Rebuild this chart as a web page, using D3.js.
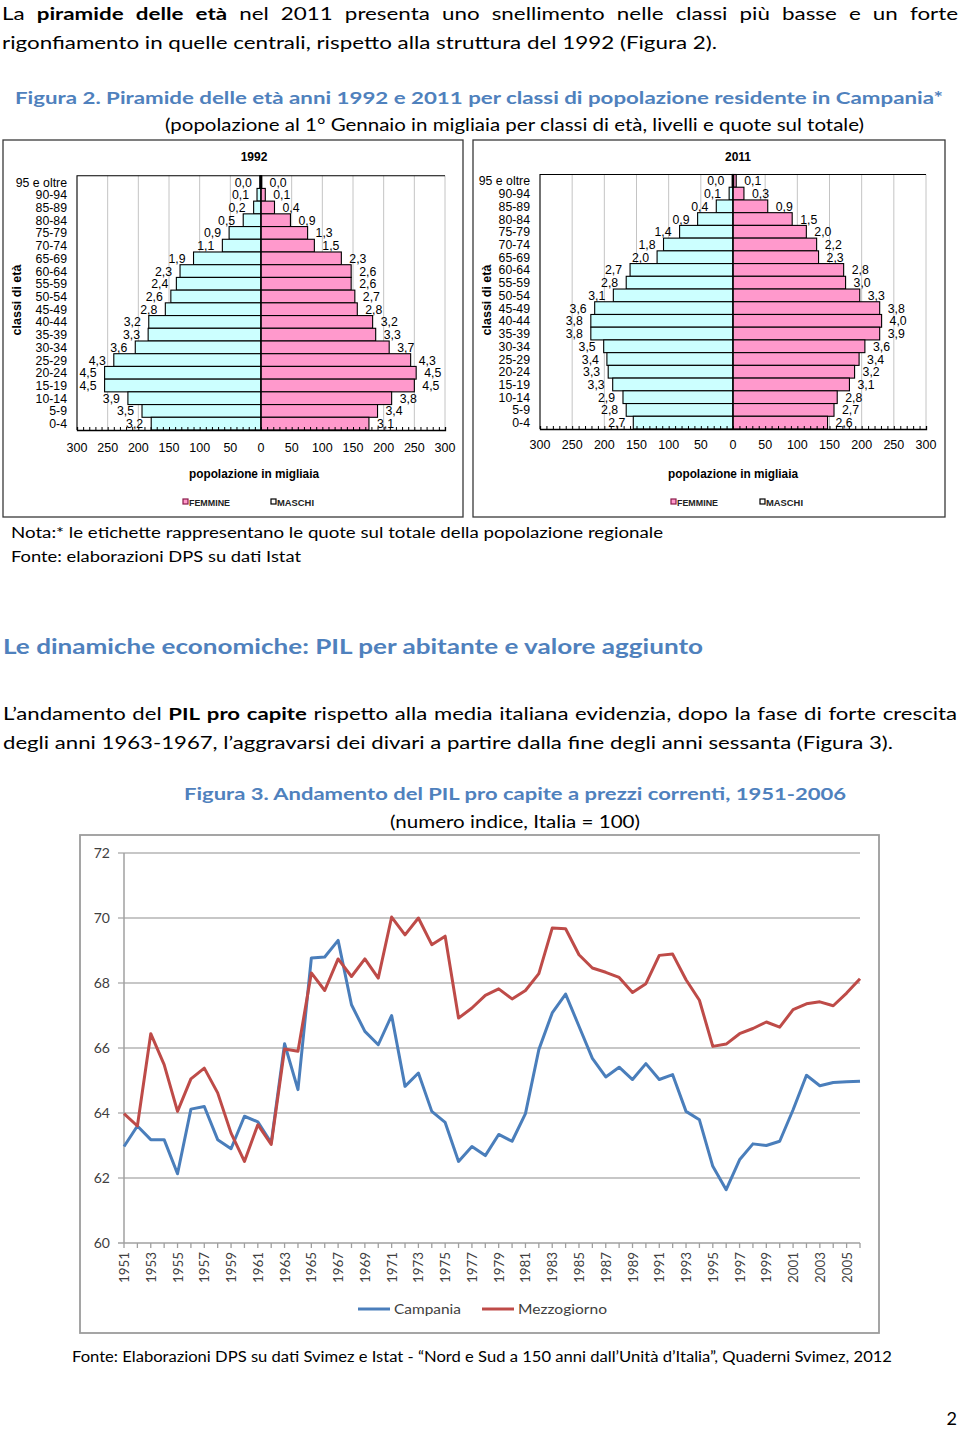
<!DOCTYPE html>
<html><head><meta charset="utf-8">
<script src="https://cdn.jsdelivr.net/npm/d3@7"></script>
<style>body{margin:0;background:#fff}svg{display:block}</style>
</head><body>
<script>
// ---------------- DATA ----------------
const ageGroups = ["95 e oltre","90-94","85-89","80-84","75-79","70-74","65-69","60-64","55-59","50-54","45-49","40-44","35-39","30-34","25-29","20-24","15-19","10-14","5-9","0-4"];

// 1992 (migliaia)
const left1992  = [2, 6.5, 12, 29, 52, 63, 110, 132, 138, 147, 156, 183, 184, 205, 240, 255, 255, 217, 194, 179];
const right1992 = [1, 7, 22, 48, 76, 87, 131, 147, 147, 153, 157, 182, 187, 209, 244, 253, 250, 213, 190, 176];
const leftLab1992  = ["0,0","0,1","0,2","0,5","0,9","1,1","1,9","2,3","2,4","2,6","2,8","3,2","3,3","3,6","4,3","4,5","4,5","3,9","3,5","3,2"];
const rightLab1992 = ["0,0","0,1","0,4","0,9","1,3","1,5","2,3","2,6","2,6","2,7","2,8","3,2","3,3","3,7","4,3","4,5","4,5","3,8","3,4","3,1"];

// 2011 (migliaia)
const left2011  = [1, 6, 26, 55, 83, 108, 118, 160, 166, 186, 215, 221, 221, 201, 196, 194, 187, 171, 166, 155];
const right2011 = [5, 17, 54, 92, 114, 130, 133, 172, 175, 197, 228, 231, 228, 205, 196, 189, 181, 162, 157, 147];
const leftLab2011  = ["0,0","0,1","0,4","0,9","1,4","1,8","2,0","2,7","2,8","3,1","3,6","3,8","3,8","3,5","3,4","3,3","3,3","2,9","2,8","2,7"];
const rightLab2011 = ["0,1","0,3","0,9","1,5","2,0","2,2","2,3","2,8","3,0","3,3","3,8","4,0","3,9","3,6","3,4","3,2","3,1","2,8","2,7","2,6"];

const pyrTicks = [-300,-250,-200,-150,-100,-50,0,50,100,150,200,250,300];

// PIL pro capite, numero indice Italia = 100
const years = [1951,1952,1953,1954,1955,1956,1957,1958,1959,1960,1961,1962,1963,1964,1965,1966,1967,1968,1969,1970,
  1971,1972,1973,1974,1975,1976,1977,1978,1979,1980,1981,1982,1983,1984,1985,1986,1987,1988,1989,1990,
  1991,1992,1993,1994,1995,1996,1997,1998,1999,2000,2001,2002,2003,2004,2005,2006];
const campania = [62.97,63.6,63.18,63.18,62.13,64.12,64.2,63.18,62.9,63.9,63.73,63.08,66.13,64.72,68.77,68.8,69.31,67.33,66.51,66.1,
  67.0,64.82,65.23,64.05,63.71,62.51,62.97,62.69,63.34,63.13,63.98,65.95,67.08,67.66,66.67,65.68,65.11,65.41,65.03,65.52,
  65.03,65.18,64.05,63.79,62.36,61.64,62.56,63.05,63.0,63.13,64.1,65.16,64.84,64.94,64.96,64.98];
const mezzogiorno = [63.98,63.6,66.44,65.49,64.05,65.05,65.38,64.62,63.38,62.51,63.64,63.03,65.97,65.9,68.31,67.77,68.74,68.2,68.74,68.15,
  70.03,69.48,70.0,69.18,69.44,66.92,67.23,67.62,67.82,67.51,67.77,68.29,69.69,69.67,68.87,68.46,68.33,68.17,67.71,67.98,
  68.85,68.89,68.1,67.47,66.05,66.12,66.44,66.6,66.8,66.64,67.18,67.36,67.42,67.3,67.69,68.13];
const yTicks = [60,62,64,66,68,70,72];
const yearLabels = [1951,1953,1955,1957,1959,1961,1963,1965,1967,1969,1971,1973,1975,1977,1979,1981,1983,1985,1987,1989,1991,1993,1995,1997,1999,2001,2003,2005];

// ---------------- SETUP ----------------
const BODY = "Lato, 'Open Sans', sans-serif";
const ARIAL = "'Liberation Sans', Arial, sans-serif";
const BLUE = "#4F81BD";
const svg = d3.select("body").append("svg").attr("width",960).attr("height",1429);
svg.append("rect").attr("width",960).attr("height",1429).attr("fill","#fff");

function measure(str, size, bold, family) {
  const t = svg.append("text").attr("font-family", family||BODY).attr("font-size", size)
    .attr("font-weight", bold ? "bold" : "normal").text(str);
  const w = t.node().getComputedTextLength();
  t.remove();
  return w;
}
function fitText(str, x, y, w, size, opts={}) {
  const t = svg.append("text").attr("x",x).attr("y",y).attr("font-family",opts.family||BODY)
    .attr("font-size",size).attr("font-weight",opts.bold?"bold":"normal").attr("fill",opts.color||"#000").text(str);
  if (w) t.attr("textLength",w).attr("lengthAdjust","spacingAndGlyphs");
  return t;
}
function justified(parts, x0, x1, y, size, s) {
  const words = [];
  parts.forEach(p => p.t.split(" ").filter(w => w).forEach(w => words.push({w, b:p.b})));
  const ws = words.map(d => measure(d.w, size, d.b) * s);
  const gap = (x1 - x0 - d3.sum(ws)) / (words.length - 1);
  let x = x0;
  words.forEach((d,i) => { fitText(d.w, x, y, ws[i], size, {bold:d.b}); x += ws[i] + gap; });
}

// ---------------- TEXT ----------------
const bodySize = 17.5;
const l2 = "rigonfiamento in quelle centrali, rispetto alla struttura del 1992 (Figura 2).";
const s1 = 715 / measure(l2, bodySize, false);
justified([{t:"La ",b:false},{t:"piramide delle età",b:true},{t:" nel 2011 presenta uno snellimento nelle classi più basse e un forte",b:false}], 2, 958, 20, bodySize, s1);
fitText(l2, 2, 49, 715, bodySize);

fitText("Figura 2. Piramide delle età anni 1992 e 2011 per classi di popolazione residente in Campania*", 15, 104, 928, 17.5, {bold:true, color:BLUE});
fitText("(popolazione al 1° Gennaio in migliaia per classi di età, livelli e quote sul totale)", 165, 131, 699, bodySize);

fitText("Nota:* le etichette rappresentano le quote sul totale della popolazione regionale", 11, 538, 652, 15.5);
fitText("Fonte: elaborazioni DPS su dati Istat", 11, 562, 290, 15.5);

fitText("Le dinamiche economiche: PIL per abitante e valore aggiunto", 3, 654, 700, 21, {bold:true, color:BLUE});

const p2 = "degli anni 1963-1967, l’aggravarsi dei divari a partire dalla fine degli anni sessanta (Figura 3).";
const s2 = 890 / measure(p2, bodySize, false);
justified([{t:"L’andamento del ",b:false},{t:"PIL pro capite",b:true},{t:" rispetto alla media italiana evidenzia, dopo la fase di forte crescita",b:false}], 3, 957, 720, bodySize, s2);
fitText(p2, 3, 749, 890, bodySize);

fitText("Figura 3. Andamento del PIL pro capite a prezzi correnti, 1951-2006", 184, 800, 662, 17.5, {bold:true, color:BLUE});
fitText("(numero indice, Italia = 100)", 390, 828, 250, bodySize);

fitText("Fonte: Elaborazioni DPS su dati Svimez e Istat - “Nord e Sud a 150 anni dall’Unità d’Italia”, Quaderni Svimez, 2012", 72, 1362, 820, 14.5);
svg.append("text").attr("x",957).attr("y",1425).attr("text-anchor","end").attr("font-family",BODY).attr("font-size",18).text("2");

// ---------------- PYRAMIDS ----------------
function drawPyramid(o) {
  const g = svg.append("g").attr("font-family", ARIAL);
  g.append("rect").attr("x",o.fx0).attr("y",o.fy0).attr("width",o.fx1-o.fx0).attr("height",o.fy1-o.fy0)
    .attr("fill","#fff").attr("stroke","#3a3a3a").attr("stroke-width",1.3);
  const x = d3.scaleLinear().domain([-300,300]).range([o.px0,o.px1]);
  const y = d3.scaleBand().domain(ageGroups).range([o.py0,o.py1]).padding(0);
  const bw = y.bandwidth();

  g.selectAll(".grid").data(pyrTicks.filter(v => v !== 0 && v !== -300)).join("line")
    .attr("x1",d=>x(d)).attr("x2",d=>x(d)).attr("y1",o.py0).attr("y2",o.py1)
    .attr("stroke","#c4c4c4").attr("stroke-width",1);

  g.selectAll(".bl").data(o.left).join("rect")
    .attr("x",d=>x(-d)).attr("width",d=>x(0)-x(-d))
    .attr("y",(d,i)=>y(ageGroups[i])).attr("height",bw)
    .attr("fill","#CCFFFF").attr("stroke","#000").attr("stroke-width",1.1);
  g.selectAll(".br").data(o.right).join("rect")
    .attr("x",x(0)).attr("width",d=>x(d)-x(0))
    .attr("y",(d,i)=>y(ageGroups[i])).attr("height",bw)
    .attr("fill","#FF99CC").attr("stroke","#000").attr("stroke-width",1.1);
  g.append("line").attr("x1",x(0)).attr("x2",x(0)).attr("y1",o.py0).attr("y2",o.py1).attr("stroke","#000").attr("stroke-width",1.2);
  g.append("line").attr("x1",x(0)).attr("x2",x(0)).attr("y1",o.py0).attr("y2",o.py0+bw).attr("stroke","#000").attr("stroke-width",2.5);

  g.append("path").attr("d",`M${o.px0},${o.py1}V${o.py0}H${o.px1}`).attr("fill","none").attr("stroke","#000").attr("stroke-width",1.1);

  const ax = g.append("g").attr("transform",`translate(0,${o.py1})`)
    .call(d3.axisBottom(x).tickValues(d3.range(-300,301,10)).tickSize(-3).tickFormat(""));
  ax.select(".domain").attr("stroke","#000").attr("stroke-width",1.3);
  ax.selectAll(".tick line").attr("stroke","#000");
  g.selectAll(".tl").data(pyrTicks).join("text")
    .attr("x",d=>x(d)).attr("y",o.tickY).attr("text-anchor","middle").attr("font-size",12.5)
    .text(d=>Math.abs(d));

  g.selectAll(".cl").data(ageGroups).join("text")
    .attr("x",o.catX).attr("y",d=>y(d)+bw/2+4.5).attr("text-anchor","end").attr("font-size",12.3)
    .text(d=>d);

  g.selectAll(".ll").data(o.left).join("text")
    .attr("x",d=>x(-d)-8).attr("y",(d,i)=>y(ageGroups[i])+bw/2+4.5).attr("text-anchor","end").attr("font-size",12.3)
    .text((d,i)=>o.leftLab[i]);
  g.selectAll(".rl").data(o.right).join("text")
    .attr("x",d=>x(d)+8).attr("y",(d,i)=>y(ageGroups[i])+bw/2+4.5).attr("text-anchor","start").attr("font-size",12.3)
    .text((d,i)=>o.rightLab[i]);

  g.append("text").attr("x",o.titleX).attr("y",161).attr("text-anchor","middle").attr("font-weight","bold").attr("font-size",12).text(o.title);
  g.append("text").attr("transform",`translate(${o.ylabX},300) rotate(-90)`).attr("text-anchor","middle")
    .attr("font-weight","bold").attr("font-size",12.5).text("classi di età");
  g.append("text").attr("x",o.axisTitleX).attr("y",478).attr("text-anchor","middle").attr("font-weight","bold")
    .attr("font-size",12).attr("textLength",130).attr("lengthAdjust","spacingAndGlyphs").text("popolazione in migliaia");

  g.append("rect").attr("x",o.legF).attr("y",499).attr("width",5).attr("height",5).attr("fill","#FF99CC").attr("stroke","#8b1a4a").attr("stroke-width",1.2);
  g.append("text").attr("x",o.legF+6).attr("y",505.5).attr("font-size",9.3).attr("font-weight","bold").attr("fill","#222")
    .attr("textLength",41).attr("lengthAdjust","spacingAndGlyphs").text("FEMMINE");
  g.append("rect").attr("x",o.legM).attr("y",499).attr("width",5).attr("height",5).attr("fill","#fff").attr("stroke","#000").attr("stroke-width",1.2);
  g.append("text").attr("x",o.legM+6).attr("y",505.5).attr("font-size",9.3).attr("font-weight","bold").attr("fill","#222")
    .attr("textLength",37).attr("lengthAdjust","spacingAndGlyphs").text("MASCHI");
}

drawPyramid({fx0:3, fy0:140, fx1:463, fy1:517, px0:77, px1:445, py0:175.7, py1:430,
  left:left1992, right:right1992, leftLab:leftLab1992, rightLab:rightLab1992,
  title:"1992", titleX:254, ylabX:21, catX:67, tickY:451.5, axisTitleX:254, legF:183, legM:271});
drawPyramid({fx0:473, fy0:140, fx1:945, fy1:517, px0:540, px1:926, py0:174.5, py1:429,
  left:left2011, right:right2011, leftLab:leftLab2011, rightLab:rightLab2011,
  title:"2011", titleX:738, ylabX:491, catX:530, tickY:448.5, axisTitleX:733, legF:671, legM:760});

// ---------------- LINE CHART ----------------
(function(){
  const g = svg.append("g").attr("font-family", BODY);
  g.append("rect").attr("x",80).attr("y",835).attr("width",799).attr("height",498)
    .attr("fill","#fff").attr("stroke","#9c9c9c").attr("stroke-width",1.8);
  const x = d3.scaleLinear().domain([1951,2006]).range([124,860]);
  const y = d3.scaleLinear().domain([60,72]).range([1243,853]);

  g.selectAll(".gl").data(yTicks.slice(1)).join("line")
    .attr("x1",118).attr("x2",860).attr("y1",d=>y(d)).attr("y2",d=>y(d))
    .attr("stroke","#b4b4b4").attr("stroke-width",1.5);
  g.append("line").attr("x1",118).attr("x2",124).attr("y1",y(60)).attr("y2",y(60)).attr("stroke","#a0a0a0").attr("stroke-width",1.5);
  g.append("line").attr("x1",124).attr("x2",124).attr("y1",y(72)).attr("y2",y(60)).attr("stroke","#a0a0a0").attr("stroke-width",1.5);
  g.append("line").attr("x1",124).attr("x2",860).attr("y1",y(60)).attr("y2",y(60)).attr("stroke","#a0a0a0").attr("stroke-width",1.5);
  g.selectAll(".xt").data(years).join("line")
    .attr("x1",d=>x(d)).attr("x2",d=>x(d)).attr("y1",y(60)).attr("y2",y(60)+5)
    .attr("stroke","#a0a0a0").attr("stroke-width",1.3);

  g.selectAll(".yl").data(yTicks).join("text")
    .attr("x",110).attr("y",d=>y(d)+5).attr("text-anchor","end").attr("font-size",14).attr("fill","#404040")
    .text(d=>d);
  g.selectAll(".xl").data(yearLabels).join("text")
    .attr("transform",d=>`translate(${x(d)+5},1252) rotate(-90)`).attr("text-anchor","end")
    .attr("font-size",14).attr("fill","#404040").attr("textLength",31).attr("lengthAdjust","spacingAndGlyphs")
    .text(d=>d);

  const line = d3.line().x((d,i)=>x(years[i])).y(d=>y(d));
  g.append("path").datum(campania).attr("d",line).attr("fill","none").attr("stroke","#4A7EBB").attr("stroke-width",3).attr("stroke-linejoin","round");
  g.append("path").datum(mezzogiorno).attr("d",line).attr("fill","none").attr("stroke","#BE4B48").attr("stroke-width",3).attr("stroke-linejoin","round");

  g.append("line").attr("x1",358).attr("x2",390).attr("y1",1309).attr("y2",1309).attr("stroke","#4A7EBB").attr("stroke-width",3);
  g.append("text").attr("x",394).attr("y",1314).attr("font-size",14).attr("fill","#404040").attr("textLength",67).attr("lengthAdjust","spacingAndGlyphs").text("Campania");
  g.append("line").attr("x1",482).attr("x2",514).attr("y1",1309).attr("y2",1309).attr("stroke","#BE4B48").attr("stroke-width",3);
  g.append("text").attr("x",518).attr("y",1314).attr("font-size",14).attr("fill","#404040").attr("textLength",89).attr("lengthAdjust","spacingAndGlyphs").text("Mezzogiorno");
})();
</script>
</body></html>
